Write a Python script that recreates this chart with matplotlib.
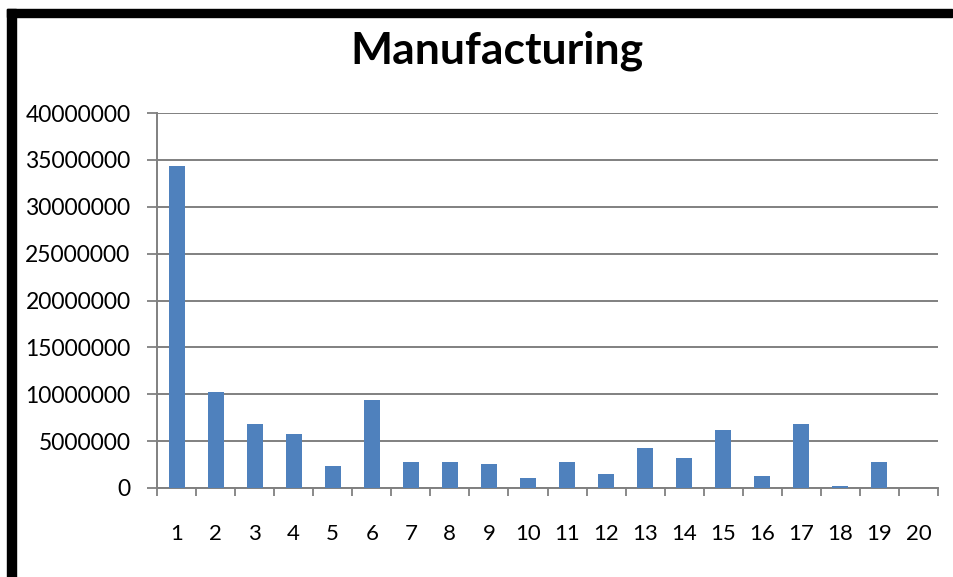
import numpy as np
import matplotlib.pyplot as plt
from matplotlib.patches import Rectangle

# Output per sector, units 1..20
categories = [str(i) for i in range(1, 21)]
values = [34300000, 10200000, 6800000, 5750000, 2350000,
          9400000, 2750000, 2750000, 2550000, 1050000,
          2750000, 1500000, 4250000, 3200000, 6200000,
          1300000, 6800000, 200000, 2750000, 0]
y_ticks = np.arange(0, 40000001, 5000000)

BAR_COLOR = "#4F81BD"
GRID_COLOR = "#808080"

plt.rcParams['font.family'] = ['Lato', 'DejaVu Sans']

fig = plt.figure(figsize=(9.54, 5.77), dpi=100)
ax = fig.add_axes([157/954, 1 - 488/577, 781/954, 375/577])

x = np.arange(len(categories))
ax.bar(x, values, width=0.41, color=BAR_COLOR, zorder=3)

ax.set_xlim(-0.5, len(categories) - 0.5)
ax.set_ylim(0, 40000000)

# y axis: plain integer labels, gridlines at every tick
ax.set_yticks(y_ticks)
ax.set_yticklabels([str(int(v)) for v in y_ticks], fontsize=16.5)
ax.yaxis.grid(True, color=GRID_COLOR, linewidth=1.4, zorder=0)
ax.tick_params(axis='y', length=7, width=1.3, color=GRID_COLOR, pad=12)

# x axis: labels centred on bars, tick marks between categories
ax.set_xticks(x)
ax.set_xticklabels(categories, fontsize=16)
ax.set_xticks(np.arange(-0.5, len(categories)), minor=True)
ax.tick_params(axis='x', which='major', length=0, pad=26)
ax.tick_params(axis='x', which='minor', length=6, width=1.3, color=GRID_COLOR)

for side in ['top', 'right']:
    ax.spines[side].set_visible(False)
for side in ['left', 'bottom']:
    ax.spines[side].set_color(GRID_COLOR)
    ax.spines[side].set_linewidth(1.4)

fig.text(497/954, 1 - 51/577, "Manufacturing", fontsize=32, fontweight='bold',
         ha='center', va='center')

# black frame along the top and left edges
fig.patches.append(Rectangle((7/954, 1 - 17/577), 945/954, 8/577,
                             transform=fig.transFigure, color='black'))
fig.patches.append(Rectangle((7/954, 0), 9/954, 1 - 9/577,
                             transform=fig.transFigure, color='black'))

fig.savefig("out.png", dpi=100)
